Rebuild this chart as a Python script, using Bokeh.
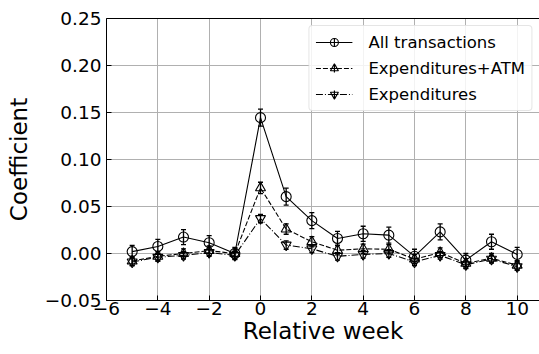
from bokeh.plotting import figure
from bokeh.models import (Range1d, FixedTicker, CustomJSTickFormatter, Legend, LegendItem,
                          ColumnDataSource, Whisker, TeeHead, LinearAxis)
from bokeh.embed import file_html
from bokeh.resources import INLINE

weeks = [-5, -4, -3, -2, -1, 0, 1, 2, 3, 4, 5, 6, 7, 8, 9, 10]
all_tx = [0.002, 0.0075, 0.0175, 0.0115, 0.0, 0.1445, 0.0605, 0.035, 0.016, 0.021, 0.0195, -0.003, 0.023, -0.007, 0.0125, -0.001]
all_err = [0.0065, 0.0075, 0.008, 0.0075, 0.0065, 0.009, 0.009, 0.0085, 0.0075, 0.008, 0.0085, 0.0075, 0.0085, 0.007, 0.008, 0.0075]
atm = [-0.008, -0.003, 0.0, 0.003, 0.0, 0.0698, 0.026, 0.0125, 0.0035, 0.005, 0.0045, -0.006, 0.001, -0.0105, -0.005, -0.0125]
atm_err = [0.005, 0.005, 0.005, 0.005, 0.005, 0.006, 0.0055, 0.0055, 0.005, 0.005, 0.005, 0.005, 0.005, 0.005, 0.005, 0.005]
exp_ = [-0.009, -0.004, -0.002, 0.001, -0.002, 0.0372, 0.009, 0.005, -0.003, -0.001, 0.0, -0.009, -0.002, -0.012, -0.006, -0.014]
exp_err = [0.004, 0.004, 0.004, 0.004, 0.004, 0.0045, 0.0045, 0.004, 0.004, 0.004, 0.004, 0.004, 0.004, 0.004, 0.004, 0.004]

names = ["All transactions", "Expenditures+ATM", "Expenditures"]
x_ticks = [-6, -4, -2, 0, 2, 4, 6, 8, 10]
y_ticks = [-0.05, 0.0, 0.05, 0.10, 0.15, 0.20, 0.25]

FONT = "DejaVu Sans"

p = figure(width=539, height=354, output_backend="svg", toolbar_location=None,
           x_range=Range1d(-6, 10.87), y_range=Range1d(-0.05, 0.25),
           min_border_left=106, min_border_right=0, min_border_top=18, min_border_bottom=54)
p.outline_line_color = None
p.background_fill_color = "white"
p.border_fill_color = "white"

for ax, ticks, digits in ((p.xaxis[0], x_ticks, 0), (p.yaxis[0], y_ticks, 2)):
    ax.ticker = FixedTicker(ticks=ticks)
    ax.formatter = CustomJSTickFormatter(code="return (tick < -1e-9 ? '\u2212' : '') + Math.abs(tick).toFixed(%d);" % digits)
    ax.major_tick_in = 5
    ax.major_tick_out = 0
    ax.minor_tick_in = 0
    ax.minor_tick_out = 0
    ax.major_label_text_font = FONT
    ax.major_label_text_font_size = "18.5px"
    ax.major_label_text_color = "black"
    ax.axis_label_text_font = FONT
    ax.axis_label_text_font_size = "23px"
    ax.axis_label_text_font_style = "normal"
    ax.axis_label_text_color = "black"
    ax.axis_line_color = "black"
    ax.major_tick_line_color = "black"

p.xaxis[0].axis_label = "Relative week"
p.xaxis[0].major_label_standoff = 1
p.xaxis[0].axis_label_standoff = 0
p.yaxis[0].axis_label = "Coefficient"
p.yaxis[0].major_label_standoff = 5
p.yaxis[0].axis_label_standoff = 10

top = LinearAxis(major_tick_in=0, major_tick_out=0, minor_tick_in=0, minor_tick_out=0,
                 major_label_text_font_size="0px", axis_line_color="black")
top.ticker = FixedTicker(ticks=[])
p.add_layout(top, "above")

p.grid.grid_line_color = "#b0b0b0"
p.grid.grid_line_width = 1
p.xgrid.ticker = FixedTicker(ticks=x_ticks)
p.ygrid.ticker = FixedTicker(ticks=y_ticks)

series = [
    (all_tx, all_err, "solid", "circle"),
    (atm, atm_err, "5 2", "triangle"),
    (exp_, exp_err, "7 2 1 2", "inverted_triangle"),
]

items = []
for (vals, errs, dash, marker), name in zip(series, names):
    src = ColumnDataSource(dict(x=weeks, y=vals,
                                lo=[v - e for v, e in zip(vals, errs)],
                                hi=[v + e for v, e in zip(vals, errs)]))
    w = Whisker(source=src, base="x", lower="lo", upper="hi", dimension="height",
                line_color="black", line_width=1.3,
                lower_head=TeeHead(size=5, line_color="black", line_width=1.3),
                upper_head=TeeHead(size=5, line_color="black", line_width=1.3))
    p.add_layout(w)
    r1 = p.line("x", "y", source=src, line_color="black", line_width=1.1, line_dash=dash)
    # cross used only as the legend's error-bar glyph (point lies outside the visible range)
    r3 = p.scatter(x=[0], y=[-10], marker="cross", size=18, line_color="black", line_width=1.2)
    r2 = p.scatter("x", "y", source=src, marker=marker, size=10, fill_color="white",
                   fill_alpha=0.0, line_color="black", line_width=1.1)
    items.append(LegendItem(label=name, renderers=[r1, r3, r2]))

legend = Legend(items=items, location="top_right")
legend.label_text_font = FONT
legend.label_text_font_size = "16.5px"
legend.label_text_color = "black"
legend.glyph_width = 37
legend.glyph_height = 20
legend.label_height = 20
legend.spacing = 6
legend.padding = 6
legend.margin = 7
legend.label_standoff = 16
legend.border_line_color = "#cccccc"
legend.border_line_width = 1
legend.background_fill_alpha = 0.85
legend.border_radius = 4
p.add_layout(legend)

open("out.html", "w").write(file_html(p, INLINE))
